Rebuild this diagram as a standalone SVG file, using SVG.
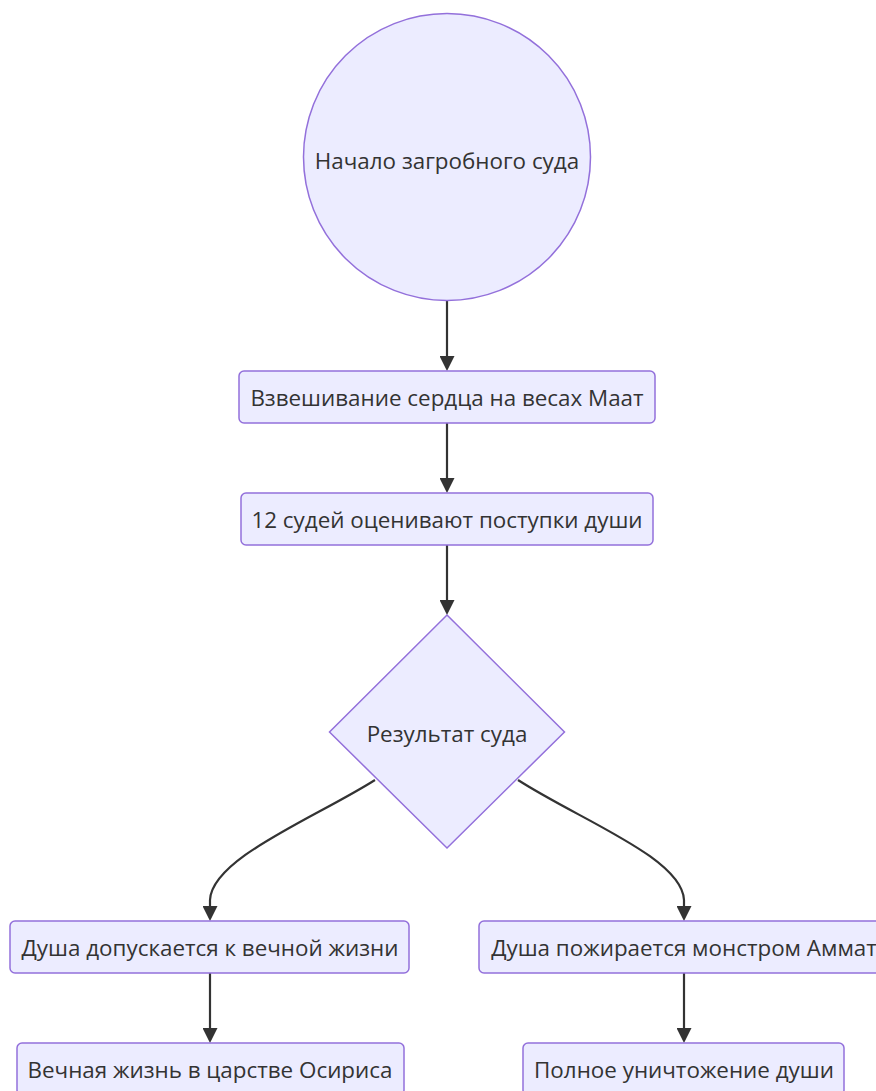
<svg xmlns="http://www.w3.org/2000/svg" width="876" height="1091" viewBox="0 0 876 1091">
<style>
.node{fill:#ECECFF;stroke:#9370DB;stroke-width:1.5}
.lbl{font-family:"Open Sans","Noto Sans",sans-serif;font-size:22.4px;fill:#333;text-anchor:middle;dominant-baseline:central}
.edge{fill:none;stroke:#333;stroke-width:2.2}
</style>
<defs>
<marker id="arr" viewBox="0 0 10 10" refX="8" refY="5" markerWidth="15" markerHeight="15" markerUnits="userSpaceOnUse" orient="auto">
<path d="M0,0 L10,5 L0,10 z" fill="#333"/>
</marker>
</defs>
<rect width="876" height="1091" fill="#fff"/>
<g id="edges">
<path class="edge" d="M447,300 L447,368" marker-end="url(#arr)"/>
<path class="edge" d="M447,423 L447,490" marker-end="url(#arr)"/>
<path class="edge" d="M447,545 L447,612" marker-end="url(#arr)"/>
<path class="edge" d="M375,780 C315,818 212,858 210,900 L210,918" marker-end="url(#arr)"/>
<path class="edge" d="M518,780 C580,820 682,858 684,900 L684,918" marker-end="url(#arr)"/>
<path class="edge" d="M210,973 L210,1040" marker-end="url(#arr)"/>
<path class="edge" d="M684,973 L684,1040" marker-end="url(#arr)"/>
</g>
<g id="start">
<circle class="node" cx="447" cy="157" r="143.5"/>
<text class="lbl" x="447" y="160">Начало загробного суда</text>
</g>
<g id="weigh">
<rect class="node" x="239" y="371" width="416" height="52" rx="5"/>
<text class="lbl" x="447" y="397">Взвешивание сердца на весах Маат</text>
</g>
<g id="judges">
<rect class="node" x="241" y="493" width="412" height="52" rx="5"/>
<text class="lbl" x="447" y="519">12 судей оценивают поступки души</text>
</g>
<g id="result">
<polygon class="node" points="447,615 564.5,732 447,848 329.5,732"/>
<text class="lbl" x="447" y="733">Результат суда</text>
</g>
<g id="admit">
<rect class="node" x="10" y="921" width="399" height="52" rx="5"/>
<text class="lbl" x="210" y="947">Душа допускается к вечной жизни</text>
</g>
<g id="devour">
<rect class="node" x="479" y="921" width="410" height="52" rx="5"/>
<text class="lbl" x="684" y="947">Душа пожирается монстром Аммат</text>
</g>
<g id="eternal">
<rect class="node" x="17" y="1043" width="387" height="52" rx="5"/>
<text class="lbl" x="210" y="1069">Вечная жизнь в царстве Осириса</text>
</g>
<g id="destroy">
<rect class="node" x="523" y="1043" width="321" height="52" rx="5"/>
<text class="lbl" x="684" y="1069">Полное уничтожение души</text>
</g>
</svg>
